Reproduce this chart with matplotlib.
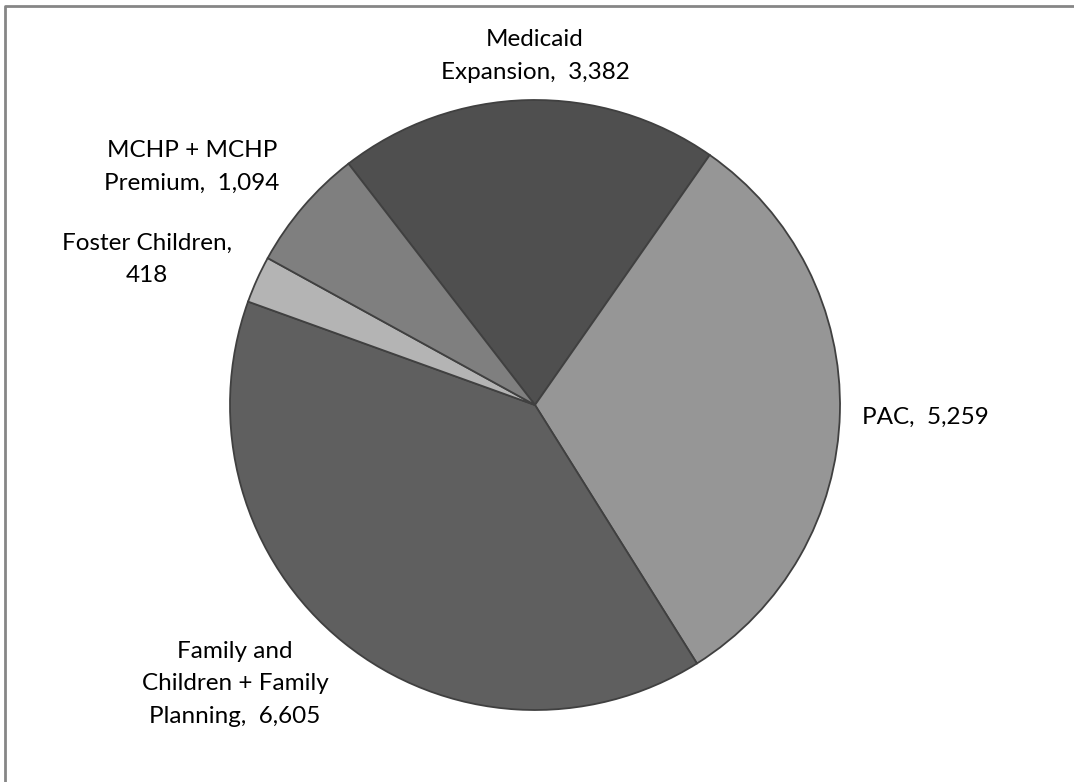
import matplotlib.pyplot as plt

# slice data, in clockwise order from the Medicaid slice
labels = ['Medicaid\nExpansion,  3,382', 'PAC,  5,259',
          'Family and\nChildren + Family\nPlanning,  6,605',
          'Foster Children,\n418', 'MCHP + MCHP\nPremium,  1,094']
values = [3382, 5259, 6605, 418, 1094]
colors = ['#4f4f4f', '#969696', '#5f5f5f', '#b4b4b4', '#7f7f7f']

W, H = 1074, 782
fig = plt.figure(figsize=(W / 100, H / 100), dpi=100)
ax = fig.add_axes([0, 0, 1, 1])
ax.set_xlim(0, W)
ax.set_ylim(0, H)
ax.set_aspect('equal')
ax.axis('off')

wedges, _ = ax.pie(values, colors=colors, center=(535, H - 405), radius=305,
                   startangle=127.7, counterclock=False,
                   wedgeprops=dict(edgecolor='#404040', linewidth=1.3))
ax.set_xlim(0, W)
ax.set_ylim(0, H)

# label positions (pixels from top-left)
label_pos = [(535, 56), (925, 417), (235, 684), (147, 259), (192, 167)]
for lab, (x, y) in zip(labels, label_pos):
    ax.text(x, H - y, lab, ha='center', va='center', fontsize=17.5,
            family='Lato', linespacing=1.65, color='black')

# outer chart frame (cropped on right/bottom)
ax.plot([5, 5, W], [0, H - 6, H - 6], color='#868686', lw=2, clip_on=False)

fig.savefig('out.png', dpi=100)
